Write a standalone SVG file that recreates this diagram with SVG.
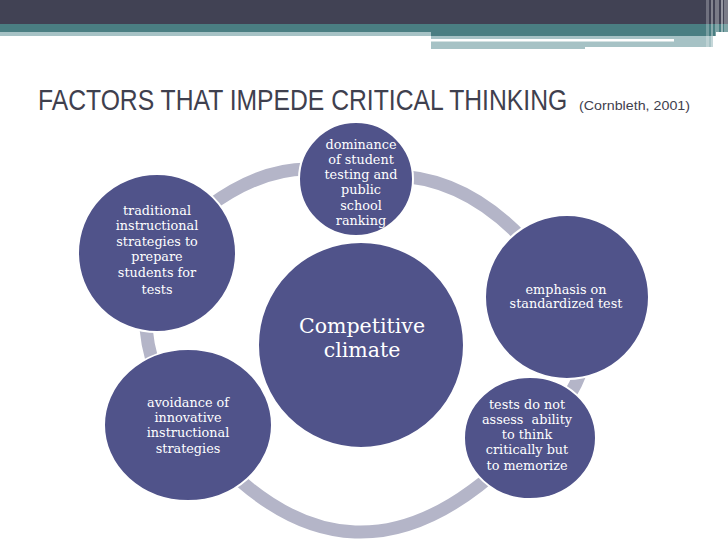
<svg xmlns="http://www.w3.org/2000/svg" width="728" height="546" viewBox="0 0 728 546">
<style>
.node{fill:#50538a;stroke:#ffffff;stroke-width:2}
.lbl{font-family:"DejaVu Serif","Liberation Serif",serif;font-size:12.8px;fill:#ffffff;text-anchor:middle}
.big{font-size:20.5px}
.ring{fill:none;stroke:#b4b5c8;stroke-width:13}
</style>
<rect x="0" y="0" width="728" height="546" fill="#ffffff"/>
<g id="header">
<rect x="0" y="0" width="728" height="24" fill="#414254"/>
<rect x="0" y="24" width="728" height="8" fill="#4a7e82"/>
<rect x="0" y="32" width="431" height="4" fill="#a6c2c5"/>
<rect x="431" y="32" width="285" height="4" fill="#4a7e82"/>
<rect x="431" y="36" width="282" height="11" fill="#a6c2c5"/>
<rect x="431" y="39" width="243" height="2.5" fill="#ffffff"/>
<rect x="431" y="47" width="154" height="2" fill="#a6c2c5"/>
<rect x="706" y="0" width="3" height="50" fill="#ffffff" opacity="0.25"/>
<rect x="711" y="0" width="2" height="50" fill="#ffffff" opacity="0.35"/>
<rect x="715" y="0" width="4" height="50" fill="#ffffff" opacity="0.3"/>
<rect x="721" y="0" width="2" height="50" fill="#ffffff" opacity="0.45"/>
<rect x="724" y="0" width="4" height="50" fill="#ffffff" opacity="0.3"/>
</g>
<g id="title">
<text transform="translate(38 110) scale(0.84 1)" x="0" y="0" font-family="'Liberation Sans',Arial,sans-serif" font-size="29" fill="#3f404e" textLength="630" lengthAdjust="spacingAndGlyphs">FACTORS THAT IMPEDE CRITICAL THINKING</text>
<text x="579" y="110" font-family="'Liberation Sans',Arial,sans-serif" font-size="12.5" fill="#3f404e" textLength="111" lengthAdjust="spacingAndGlyphs">(Cornbleth, 2001)</text>
</g>
<g id="connectors">
<path class="ring" d="M157,253 Q263.5,140 356,179 Q478.5,156 567,297 Q615.5,366.5 530,438 Q351,632.5 188,425 Q123.5,347 157,253 Z"/>
</g>
<g id="node-top">
<circle class="node" cx="356" cy="179" r="57"/>
<text class="lbl" x="361" y="149">dominance</text>
<text class="lbl" x="361" y="164">of student</text>
<text class="lbl" x="361" y="179">testing and</text>
<text class="lbl" x="361" y="194">public</text>
<text class="lbl" x="361" y="210">school</text>
<text class="lbl" x="361" y="225">ranking</text>
</g>
<g id="node-left">
<circle class="node" cx="157" cy="253" r="79"/>
<text class="lbl" x="157" y="215">traditional</text>
<text class="lbl" x="157" y="230">instructional</text>
<text class="lbl" x="157" y="246">strategies to</text>
<text class="lbl" x="157" y="261">prepare</text>
<text class="lbl" x="157" y="277">students for</text>
<text class="lbl" x="157" y="294">tests</text>
</g>
<g id="node-right">
<circle class="node" cx="567" cy="297" r="82"/>
<text class="lbl" x="566" y="294">emphasis on</text>
<text class="lbl" x="566" y="308">standardized test</text>
</g>
<g id="node-bottom-right">
<ellipse class="node" cx="530" cy="438" rx="66" ry="61"/>
<text class="lbl" x="527" y="409">tests do not</text>
<text class="lbl" x="527" y="424" xml:space="preserve">assess  ability</text>
<text class="lbl" x="527" y="439">to think</text>
<text class="lbl" x="527" y="454">critically but</text>
<text class="lbl" x="527" y="470">to memorize</text>
</g>
<g id="node-bottom-left">
<ellipse class="node" cx="188" cy="425" rx="84" ry="76"/>
<text class="lbl" x="188" y="407">avoidance of</text>
<text class="lbl" x="188" y="422">innovative</text>
<text class="lbl" x="188" y="437">instructional</text>
<text class="lbl" x="188" y="453">strategies</text>
</g>
<g id="node-center">
<circle class="node" cx="361" cy="345" r="103"/>
<text class="lbl big" x="362" y="333">Competitive</text>
<text class="lbl big" x="362" y="357">climate</text>
</g>
</svg>
